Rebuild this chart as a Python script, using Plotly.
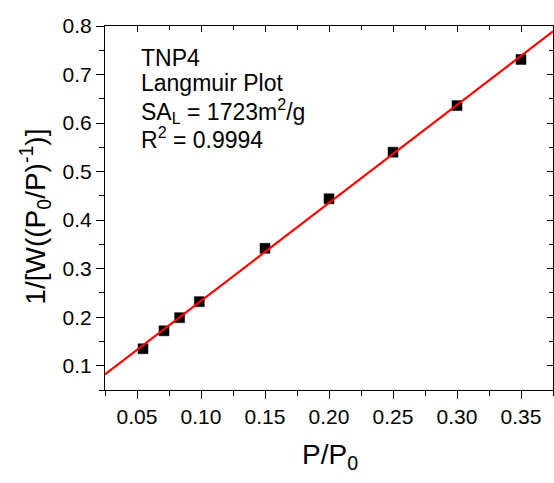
import numpy as np
import plotly.graph_objects as go

# Data
p_rel = [0.0547, 0.0711, 0.0833, 0.0987, 0.150, 0.200, 0.250, 0.300, 0.350]
inv_w = [0.135, 0.172, 0.199, 0.232, 0.342, 0.444, 0.540, 0.636, 0.731]
x_range = [0.025, 0.375]
y_range = [0.05, 0.80]
annot_lines = ["TNP4", "Langmuir Plot", "SA<sub>L</sub> = 1723m<sup>2</sup>/g", "R<sup>2</sup> = 0.9994"]

slope, intercept = np.polyfit(p_rel, inv_w, 1)
fit_x = np.array(x_range)
fit_y = slope * fit_x + intercept

FONT = "Liberation Sans, Arial, sans-serif"

fig = go.Figure()
fig.add_trace(go.Scatter(x=p_rel, y=inv_w, mode="markers",
                         marker=dict(symbol="square", size=10, color="black",
                                     line=dict(color="black", width=0.5)),
                         showlegend=False, cliponaxis=False))
fig.add_trace(go.Scatter(x=fit_x, y=fit_y, mode="lines",
                         line=dict(color="#ff0000", width=2.2), showlegend=False))
# invisible trace to activate mirrored inner-tick axes
fig.add_trace(go.Scatter(x=[None], y=[None], xaxis="x2", yaxis="y2",
                         showlegend=False, hoverinfo="skip"))

axis_common = dict(showgrid=False, zeroline=False, linecolor="black", linewidth=1.2,
                   tickcolor="black", tickwidth=1,
                   tickfont=dict(family=FONT, size=21, color="black"))

fig.update_layout(
    width=554, height=483,
    margin=dict(l=105, r=1, t=26, b=93),
    paper_bgcolor="white", plot_bgcolor="white",
    xaxis=dict(range=x_range, dtick=0.05, tick0=0.05, tickformat=".2f",
               ticks="outside", ticklen=8, showline=True, mirror=True,
               minor=dict(dtick=0.025, tick0=0.025, ticks="outside", ticklen=5,
                          tickcolor="black", showgrid=False),
               **axis_common),
    yaxis=dict(range=y_range, dtick=0.1, tick0=0.1, tickformat=".1f",
               ticks="outside", ticklen=8, showline=True, mirror=True,
               minor=dict(dtick=0.05, tick0=0.05, ticks="outside", ticklen=5,
                          tickcolor="black", showgrid=False),
               **axis_common),
    xaxis2=dict(range=x_range, overlaying="x", side="top", dtick=0.05, tick0=0.05,
                ticks="inside", ticklen=6, showticklabels=False, showline=False,
                showgrid=False, zeroline=False, tickcolor="black",
                minor=dict(dtick=0.025, tick0=0.025, ticks="inside", ticklen=4,
                           tickcolor="black", showgrid=False)),
    yaxis2=dict(range=y_range, overlaying="y", side="right", dtick=0.1, tick0=0.1,
                ticks="inside", ticklen=6, showticklabels=False, showline=False,
                showgrid=False, zeroline=False, tickcolor="black",
                minor=dict(dtick=0.05, tick0=0.05, ticks="inside", ticklen=4,
                           tickcolor="black", showgrid=False)),
)

# inset text lines
line_y = [0.912, 0.843, 0.766, 0.693]
for txt, yy in zip(annot_lines, line_y):
    fig.add_annotation(text=txt, xref="paper", yref="paper", x=0.075, y=yy,
                       xanchor="left", yanchor="middle", showarrow=False,
                       font=dict(family=FONT, size=23, color="black"))

# axis titles
fig.add_annotation(text="P/P<sub>0</sub>", xref="paper", yref="paper",
                   x=0.502, y=-0.184, xanchor="center", yanchor="middle",
                   showarrow=False, font=dict(family=FONT, size=28, color="black"))
fig.add_annotation(text="1/[W((P<sub>0</sub>/P)<sup>-1</sup>)]", xref="paper", yref="paper",
                   x=-0.155, y=0.475, xanchor="center", yanchor="middle", textangle=-90,
                   showarrow=False, font=dict(family=FONT, size=28, color="black"))

fig.write_html("out.html")
